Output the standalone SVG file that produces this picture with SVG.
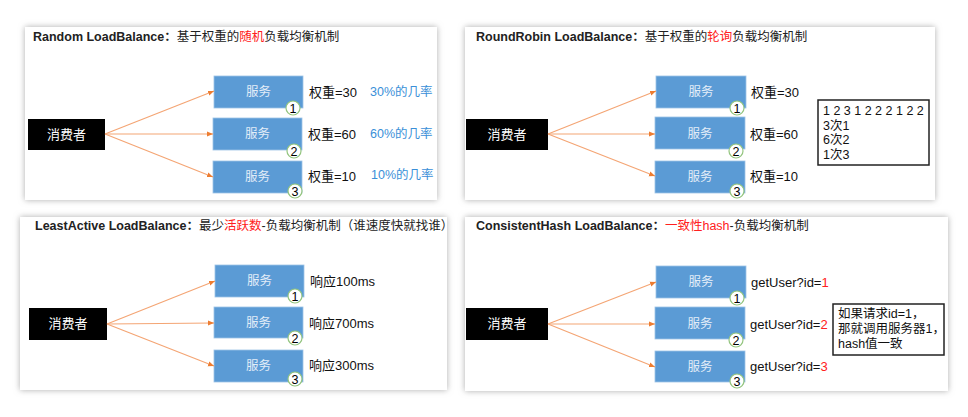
<svg xmlns="http://www.w3.org/2000/svg" width="968" height="417" viewBox="0 0 968 417">
<defs>
<filter id="sh" x="-5%" y="-10%" width="110%" height="120%">
<feDropShadow dx="0" dy="0" stdDeviation="3" flood-color="#999" flood-opacity="0.8"/>
</filter>
<marker id="ah" viewBox="0 0 6 6" refX="6" refY="3" markerWidth="6" markerHeight="6" orient="auto" markerUnits="userSpaceOnUse">
<path d="M0,0.5 L6,3 L0,5.5 z" fill="#ed7d31"/>
</marker>
</defs>
<style>
text{font-family:"Liberation Sans","Noto Sans CJK SC",sans-serif;}
.panel{fill:#fff;filter:url(#sh);}
.title{font-size:12.5px;fill:#222;}
.b{font-weight:bold;}
.red{fill:#ff2020;}
.cons{fill:#000;}
.ct{fill:#fff;font-size:13px;text-anchor:middle;}
.svc{fill:#5b9bd5;stroke:#9dc3e6;stroke-width:0.8;}
.st{fill:#e3edf8;font-size:12.5px;text-anchor:middle;}
.num{fill:#fff;stroke:#92c47d;stroke-width:1.2;}
.nt{fill:#000;font-size:12.5px;text-anchor:middle;}
.lab{fill:#111;font-size:13px;}
.blue{fill:#3a8fd8;font-size:12.5px;}
.conn path{stroke:#f4a574;stroke-width:1.2;fill:none;marker-end:url(#ah);}
.note{fill:#fff;stroke:#222;stroke-width:1.5;}
.nt2{fill:#111;font-size:12.5px;}
</style>

<!-- Panel 1 -->
<g id="panel-random">
<rect class="panel" x="25" y="27" width="412" height="173"/>
<text class="title" x="33" y="41"><tspan class="b">Random LoadBalance：</tspan>基于权重的<tspan class="red">随机</tspan>负载均衡机制</text>
</g>
<g id="p1-consumer"><rect class="cons" x="28" y="119" width="77" height="31"/><text class="ct" x="66.5" y="139">消费者</text></g>
<g id="p1-svc1"><rect class="svc" x="214" y="76" width="89" height="32"/><text class="st" x="258.5" y="96">服务</text><circle class="num" cx="293" cy="108" r="7"/><text class="nt" x="293" y="112.5">1</text></g>
<g id="p1-svc2"><rect class="svc" x="213" y="118" width="89" height="32"/><text class="st" x="257.5" y="138">服务</text><circle class="num" cx="294" cy="151" r="7"/><text class="nt" x="294" y="155.5">2</text></g>
<g id="p1-svc3"><rect class="svc" x="213" y="161" width="89" height="32"/><text class="st" x="257.5" y="181">服务</text><circle class="num" cx="295" cy="191" r="7"/><text class="nt" x="295" y="195.5">3</text></g>
<g id="p1-labels">
<text class="lab" x="309" y="97">权重=30</text><text class="blue" x="370" y="96">30%的几率</text>
<text class="lab" x="308" y="139">权重=60</text><text class="blue" x="370" y="138">60%的几率</text>
<text class="lab" x="308" y="181">权重=10</text><text class="blue" x="371" y="179">10%的几率</text>
</g>

<!-- Panel 2 -->
<g id="panel-roundrobin">
<rect class="panel" x="465" y="27" width="470" height="173"/>
<text class="title" x="476" y="41"><tspan class="b">RoundRobin LoadBalance：</tspan>基于权重的<tspan class="red">轮询</tspan>负载均衡机制</text>
</g>
<g id="p2-consumer"><rect class="cons" x="466" y="119" width="82" height="31"/><text class="ct" x="507" y="139">消费者</text></g>
<g id="p2-svc1"><rect class="svc" x="656" y="76" width="90" height="32"/><text class="st" x="701" y="96">服务</text><circle class="num" cx="737" cy="108" r="7"/><text class="nt" x="737" y="112.5">1</text></g>
<g id="p2-svc2"><rect class="svc" x="655" y="117" width="90" height="32"/><text class="st" x="700" y="138">服务</text><circle class="num" cx="736" cy="151" r="7"/><text class="nt" x="736" y="155.5">2</text></g>
<g id="p2-svc3"><rect class="svc" x="655" y="161" width="90" height="32"/><text class="st" x="700" y="181">服务</text><circle class="num" cx="737" cy="191" r="7"/><text class="nt" x="737" y="195.5">3</text></g>
<g id="p2-labels">
<text class="lab" x="751" y="97">权重=30</text>
<text class="lab" x="750" y="139">权重=60</text>
<text class="lab" x="750" y="181">权重=10</text>
</g>
<g id="p2-note">
<rect class="note" x="818" y="100" width="111" height="65"/>
<text class="nt2" x="823" y="115">1 2 3 1 2 2 2 1 2 2</text>
<text class="nt2" x="823" y="130">3次1</text>
<text class="nt2" x="823" y="144">6次2</text>
<text class="nt2" x="823" y="159">1次3</text>
</g>

<!-- Panel 3 -->
<g id="panel-leastactive">
<rect class="panel" x="20" y="217" width="427" height="173"/>
<text class="title" x="35" y="230"><tspan class="b">LeastActive LoadBalance：</tspan>最少<tspan class="red">活跃数</tspan>-负载均衡机制（谁速度快就找谁）</text>
</g>
<g id="p3-consumer"><rect class="cons" x="29" y="308" width="78" height="32"/><text class="ct" x="68" y="328">消费者</text></g>
<g id="p3-svc1"><rect class="svc" x="215" y="265" width="89" height="32"/><text class="st" x="259.5" y="285">服务</text><circle class="num" cx="295" cy="296" r="7"/><text class="nt" x="295" y="300.5">1</text></g>
<g id="p3-svc2"><rect class="svc" x="214" y="307" width="89" height="31"/><text class="st" x="258.5" y="327">服务</text><circle class="num" cx="295" cy="338" r="7"/><text class="nt" x="295" y="342.5">2</text></g>
<g id="p3-svc3"><rect class="svc" x="214" y="350" width="89" height="32"/><text class="st" x="258.5" y="370">服务</text><circle class="num" cx="295" cy="379" r="7"/><text class="nt" x="295" y="383.5">3</text></g>
<g id="p3-labels">
<text class="lab" x="310" y="286">响应100ms</text>
<text class="lab" x="309" y="328">响应700ms</text>
<text class="lab" x="309" y="370">响应300ms</text>
</g>

<!-- Panel 4 -->
<g id="panel-consistenthash">
<rect class="panel" x="465" y="217" width="483" height="174"/>
<text class="title" x="476" y="230"><tspan class="b">ConsistentHash LoadBalance：</tspan><tspan class="red">一致性hash</tspan>-负载均衡机制</text>
</g>
<g id="p4-consumer"><rect class="cons" x="466" y="308" width="82" height="32"/><text class="ct" x="507" y="328">消费者</text></g>
<g id="p4-svc1"><rect class="svc" x="656" y="266" width="90" height="32"/><text class="st" x="701" y="286">服务</text><circle class="num" cx="737" cy="298" r="7"/><text class="nt" x="737" y="302.5">1</text></g>
<g id="p4-svc2"><rect class="svc" x="655" y="307" width="90" height="32"/><text class="st" x="700" y="328">服务</text><circle class="num" cx="736" cy="340" r="7"/><text class="nt" x="736" y="344.5">2</text></g>
<g id="p4-svc3"><rect class="svc" x="655" y="351" width="90" height="31"/><text class="st" x="700" y="371">服务</text><circle class="num" cx="737" cy="381" r="7"/><text class="nt" x="737" y="385.5">3</text></g>
<g id="p4-labels">
<text class="lab" x="751" y="287">getUser?id=<tspan class="red">1</tspan></text>
<text class="lab" x="750" y="329">getUser?id=<tspan class="red">2</tspan></text>
<text class="lab" x="750" y="371">getUser?id=<tspan class="red">3</tspan></text>
</g>
<g id="p4-note">
<rect class="note" x="833" y="304" width="111" height="51"/>
<text class="nt2" x="838" y="318">如果请求id=1，</text>
<text class="nt2" x="838" y="333">那就调用服务器1，</text>
<text class="nt2" x="838" y="348">hash值一致</text>
</g>

<g id="connectors" class="conn">
<path d="M105,134 L214,91"/>
<path d="M105,134 L213,134"/>
<path d="M105,134 L213,177"/>
<path d="M548,134 L656,91"/>
<path d="M548,134 L655,134"/>
<path d="M548,134 L655,176"/>
<path d="M107,324 L215,281"/>
<path d="M107,324 L214,323"/>
<path d="M107,324 L214,366"/>
<path d="M548,324 L656,282"/>
<path d="M548,324 L655,324"/>
<path d="M548,324 L655,367"/>
</g>
</svg>
